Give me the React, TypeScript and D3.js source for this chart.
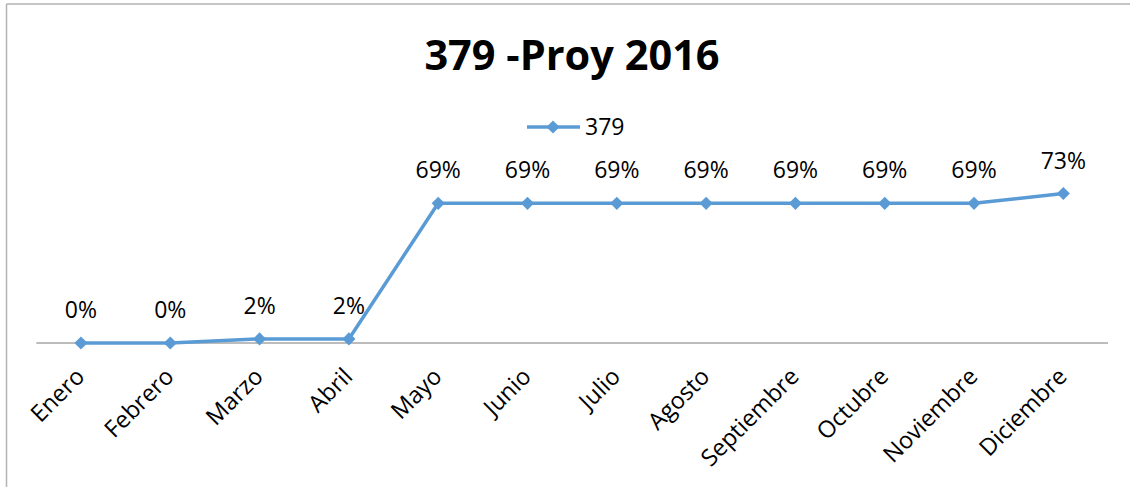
import React from "react";
import * as d3 from "d3";

const title = "379 -Proy 2016";
const seriesName = "379";
const months = [
  "Enero", "Febrero", "Marzo", "Abril", "Mayo", "Junio",
  "Julio", "Agosto", "Septiembre", "Octubre", "Noviembre", "Diciembre",
];
const values = [0, 0, 0.02, 0.02, 0.686, 0.686, 0.686, 0.686, 0.686, 0.686, 0.686, 0.734];

const W = 1130;
const H = 487;
const COLOR = "#5b9bd5";
const FONT = "'Open Sans', 'Liberation Sans', sans-serif";

export default function App() {
  const x = d3.scaleBand<string>().domain(months).range([36.3, 1108]);
  const y = d3.scaleLinear().domain([0, 0.8]).range([343, 180.1]);
  const cx = (m: string) => (x(m) as number) + x.bandwidth() / 2;
  const line = d3
    .line<number>()
    .x((_, i) => cx(months[i]))
    .y((v) => y(v));
  const diamond = d3.symbol().type(d3.symbolDiamond2).size(110)() as string;
  const fmt = d3.format(".0%");

  return (
    <svg
      width={W}
      height={H}
      style={{ position: "absolute", left: 0, top: 0, background: "#fff" }}
      fontFamily={FONT}
    >
      {/* frame */}
      <line x1={6.5} y1={4} x2={W} y2={4} stroke="#b3b3b3" strokeWidth={1.5} />
      <line x1={6.5} y1={4} x2={6.5} y2={H} stroke="#b3b3b3" strokeWidth={1.5} />

      {/* title */}
      <text x={572} y={70} textAnchor="middle" fontSize={41.5} fontWeight="bold" fill="#000">
        {title}
      </text>

      {/* legend */}
      <line x1={527} y1={127} x2={580} y2={127} stroke={COLOR} strokeWidth={3.5} />
      <path d={diamond} transform="translate(553,127)" fill={COLOR} />
      <text x={585} y={135} fontSize={23} fill="#000">{seriesName}</text>

      {/* axis */}
      <line x1={x.range()[0]} y1={y(0)} x2={x.range()[1]} y2={y(0)} stroke="#a6a6a6" strokeWidth={1.5} />

      {/* line */}
      <path d={line(values) as string} fill="none" stroke={COLOR} strokeWidth={3.5} strokeLinejoin="round" />
      {values.map((v, i) => (
        <path key={"m" + i} d={diamond} transform={`translate(${cx(months[i])},${y(v)})`} fill={COLOR} />
      ))}

      {/* data labels */}
      {values.map((v, i) => (
        <text key={"l" + i} x={cx(months[i])} y={y(v) - 25} textAnchor="middle" fontSize={23} fill="#000">
          {fmt(v)}
        </text>
      ))}

      {/* category labels */}
      {months.map((m) => (
        <text
          key={m}
          transform={`translate(${cx(m) + 5},${y(0) + 35}) rotate(-45)`}
          textAnchor="end"
          fontSize={23.5}
          fill="#000"
        >
          {m}
        </text>
      ))}
    </svg>
  );
}
